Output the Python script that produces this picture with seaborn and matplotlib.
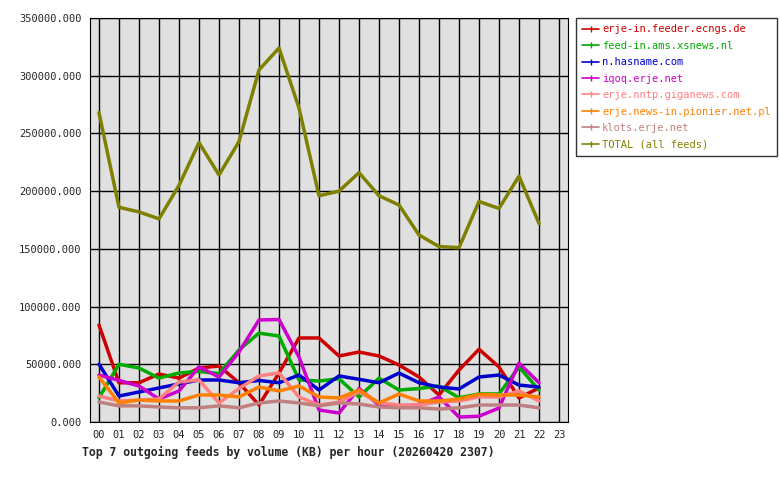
import matplotlib
matplotlib.use("Agg")
import matplotlib.pyplot as plt
import seaborn as sns
import pandas as pd

hours = list(range(23))
hour_labels = [f"{h:02d}" for h in range(24)]
feeds = ["erje-in.feeder.ecngs.de", "feed-in.ams.xsnews.nl", "n.hasname.com", "iqoq.erje.net",
         "erje.nntp.giganews.com", "erje.news-in.pionier.net.pl", "klots.erje.net", "TOTAL (all feeds)"]
colors = ["#cc0000", "#00aa00", "#0000cc", "#cc00cc", "#ff8080", "#ff8000", "#c08080", "#808000"]
ecngs = [84000, 34000, 34000, 41600, 38000, 46800, 48500, 34000, 14700, 42400, 72800, 72800, 57200, 60600, 57200, 49400, 39000, 23400, 45000, 63000, 47700, 20800, 29500]
xsnews = [21000, 50000, 46800, 38000, 42500, 43800, 42000, 62400, 77000, 74500, 36400, 35500, 37500, 21700, 38000, 27700, 29000, 31200, 21000, 24300, 24300, 47700, 27700]
hasname = [50000, 22500, 26000, 29500, 33000, 36400, 36400, 34000, 36000, 34000, 40700, 27700, 39900, 37000, 34000, 42400, 34000, 30300, 28600, 39000, 40700, 32000, 30300]
iqoq = [40700, 36000, 31200, 19900, 26900, 47700, 39000, 60600, 88400, 88800, 56300, 10400, 7800, 29000, 14700, 13900, 14700, 21700, 4300, 5000, 12100, 51100, 34000]
giganews = [22500, 18200, 19000, 20000, 34700, 36400, 16500, 29000, 39900, 42500, 21700, 14700, 17300, 26000, 16500, 14700, 14700, 17300, 18200, 21700, 21700, 26900, 18200]
pionier = [39000, 16500, 19000, 18200, 18200, 23400, 23400, 21700, 30300, 26900, 31200, 21700, 20800, 27700, 16500, 24300, 18200, 18200, 19900, 24000, 23400, 23400, 21700]
klots = [17300, 14000, 14000, 13000, 12300, 12300, 14000, 12300, 16500, 18200, 16500, 14000, 16500, 15600, 13000, 12300, 12300, 11200, 12300, 14700, 14700, 14700, 12300]
total = [268000, 186000, 182000, 176000, 205000, 242000, 214000, 243000, 305000, 324000, 272000, 196000, 200000, 216000, 196000, 188000, 162000, 152000, 151000, 191000, 185000, 213000, 172000]
series = [ecngs, xsnews, hasname, iqoq, giganews, pionier, klots, total]

rows = []
for f, vals in zip(feeds, series):
    for h, v in zip(hours, vals):
        rows.append({"hour": h, "feed": f, "kb": v})
df = pd.DataFrame(rows)

sns.set_style("white")
plt.rcParams["font.family"] = ["DejaVu Sans Mono"]
fig = plt.figure(figsize=(7.8, 4.8), dpi=100)
ax = fig.add_axes([90/780, 1-422/480, 478/780, 404/480])
ax.set_facecolor("#e0e0e0")
sns.lineplot(data=df, x="hour", y="kb", hue="feed", hue_order=feeds, palette=colors,
             linewidth=2.5, ax=ax, legend=False)
ax.set_xlim(-0.45, 23.45)
ax.set_ylim(0, 350000)
ax.set_xticks(range(24))
ax.set_xticklabels(hour_labels, fontsize=7.5)
ax.set_yticks(range(0, 350001, 50000))
ax.set_yticklabels([f"{v}.000" for v in range(0, 350001, 50000)], fontsize=7.5)
ax.grid(True, color="black", linewidth=1)
ax.set_axisbelow(True)
for s in ax.spines.values():
    s.set_color("black")
ax.tick_params(length=4, color="black", direction="out", pad=2)
ax.set_xlabel("")
ax.set_ylabel("")
fig.text(82/780, 1-452/480, "Top 7 outgoing feeds by volume (KB) per hour (20260420 2307)",
         fontsize=8.3, fontweight="bold", va="center")
handles = [plt.Line2D([], [], color=c, lw=1.2, marker="|", markersize=4) for c in colors]
leg = fig.legend(handles, feeds, loc="upper left", bbox_to_anchor=(576/780, 1-18/480),
                 prop={"size": 7.5}, frameon=True, fancybox=False, handlelength=1.6,
                 labelspacing=0.62, borderaxespad=0, handletextpad=0.3, borderpad=0.6)
leg.get_frame().set_edgecolor("black")
for t, c in zip(leg.get_texts(), colors):
    t.set_color(c)
fig.savefig("out.png", dpi=100)
